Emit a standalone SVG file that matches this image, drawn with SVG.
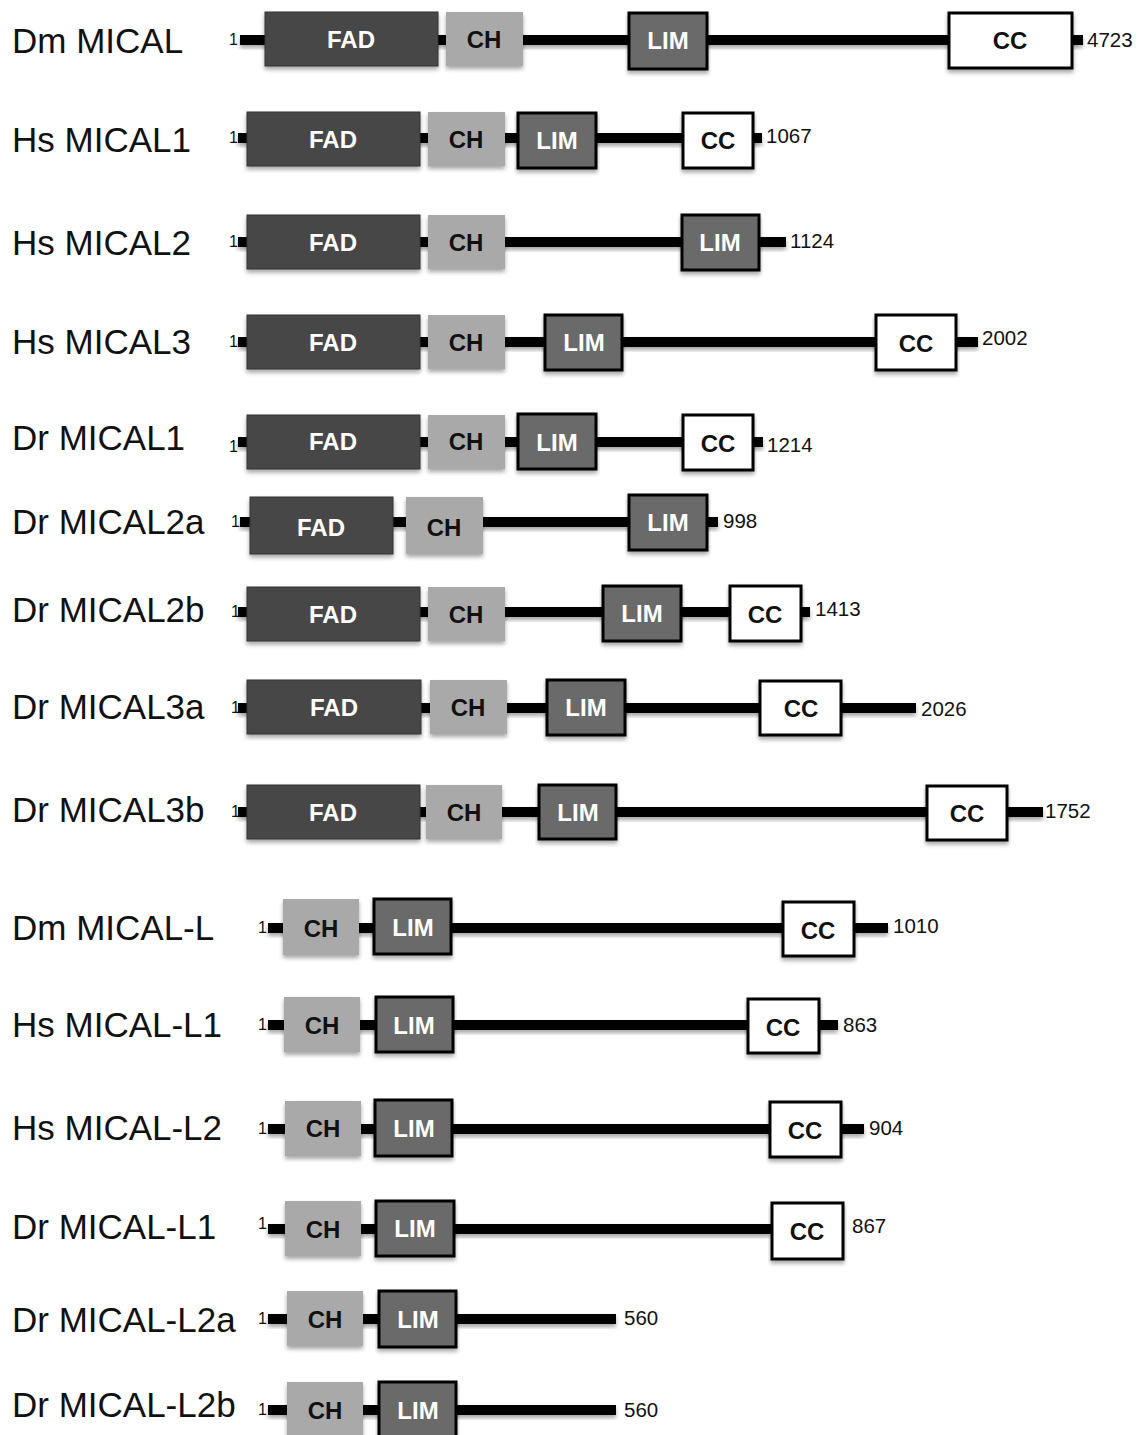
<svg xmlns="http://www.w3.org/2000/svg" width="1140" height="1435" viewBox="0 0 1140 1435">
<defs>
<filter id="sh" x="-5%" y="-30%" width="110%" height="180%">
<feDropShadow dx="0" dy="3" stdDeviation="2" flood-color="#000" flood-opacity="0.35"/>
</filter>
<style>
.lbl{font-family:"Liberation Sans",Arial,sans-serif;font-size:35px;fill:#111}
.one{font-family:"Liberation Sans",Arial,sans-serif;font-size:16px;fill:#111}
.num{font-family:"Liberation Sans",Arial,sans-serif;font-size:20.5px;fill:#111}
.bb{fill:#000;filter:url(#sh)}
.fad{fill:#464646;stroke:#333;stroke-width:1;filter:url(#sh)}
.ch{fill:#a9a9a9;filter:url(#sh)}
.lim{fill:#6a6a6a;stroke:#000;stroke-width:3;filter:url(#sh)}
.cc{fill:#fff;stroke:#000;stroke-width:3;filter:url(#sh)}
.dw{font-family:"Liberation Sans",Arial,sans-serif;font-weight:bold;font-size:24px;fill:#fff;text-anchor:middle}
.dk{font-family:"Liberation Sans",Arial,sans-serif;font-weight:bold;font-size:24px;fill:#111;text-anchor:middle}
</style>
</defs>
<rect width="1140" height="1435" fill="#fff"/>

<g id="connectors">
<rect class="bb" x="240" y="35" width="843" height="10"/>
<rect class="bb" x="238" y="133" width="524" height="10"/>
<rect class="bb" x="238" y="237" width="548" height="10"/>
<rect class="bb" x="238" y="337" width="740" height="10"/>
<rect class="bb" x="238" y="437" width="525" height="10"/>
<rect class="bb" x="240" y="517" width="478" height="10"/>
<rect class="bb" x="238" y="607" width="572" height="10"/>
<rect class="bb" x="238" y="703" width="678" height="10"/>
<rect class="bb" x="238" y="807" width="805" height="10"/>
<rect class="bb" x="268" y="923" width="620" height="10"/>
<rect class="bb" x="268" y="1020" width="570" height="10"/>
<rect class="bb" x="268" y="1124" width="596" height="10"/>
<rect class="bb" x="268" y="1224" width="503" height="10"/>
<rect class="bb" x="268" y="1314" width="348" height="10"/>
<rect class="bb" x="268" y="1405" width="348" height="10"/>
</g>

<g id="dm-mical">
<text class="lbl" x="12" y="53">Dm MICAL</text>
<text class="one" x="229" y="45">1</text>
<rect class="fad" x="265" y="12" width="173" height="54"/><text class="dw" x="351" y="48">FAD</text>
<rect class="ch" x="446" y="12" width="77" height="54"/><text class="dk" x="484" y="48">CH</text>
<rect class="lim" x="629" y="13" width="78" height="56"/><text class="dw" x="668" y="49">LIM</text>
<rect class="cc" x="949" y="13" width="123" height="55"/><text class="dk" x="1010" y="49">CC</text>
<text class="num" x="1087" y="47">4723</text>
</g>

<g id="hs-mical1">
<text class="lbl" x="12" y="152">Hs MICAL1</text>
<text class="one" x="229" y="143">1</text>
<rect class="fad" x="247" y="112" width="173" height="54"/><text class="dw" x="333" y="148">FAD</text>
<rect class="ch" x="428" y="112" width="77" height="54"/><text class="dk" x="466" y="148">CH</text>
<rect class="lim" x="518" y="113" width="78" height="55"/><text class="dw" x="557" y="149">LIM</text>
<rect class="cc" x="683" y="113" width="70" height="55"/><text class="dk" x="718" y="149">CC</text>
<text class="num" x="766" y="143">1067</text>
</g>

<g id="hs-mical2">
<text class="lbl" x="12" y="255">Hs MICAL2</text>
<text class="one" x="229" y="247">1</text>
<rect class="fad" x="247" y="215" width="173" height="54"/><text class="dw" x="333" y="251">FAD</text>
<rect class="ch" x="428" y="215" width="77" height="54"/><text class="dk" x="466" y="251">CH</text>
<rect class="lim" x="682" y="215" width="77" height="55"/><text class="dw" x="720" y="251">LIM</text>
<text class="num" x="790" y="248">1124</text>
</g>

<g id="hs-mical3">
<text class="lbl" x="12" y="354">Hs MICAL3</text>
<text class="one" x="229" y="347">1</text>
<rect class="fad" x="247" y="315" width="173" height="54"/><text class="dw" x="333" y="351">FAD</text>
<rect class="ch" x="428" y="315" width="77" height="54"/><text class="dk" x="466" y="351">CH</text>
<rect class="lim" x="545" y="315" width="77" height="55"/><text class="dw" x="584" y="351">LIM</text>
<rect class="cc" x="876" y="315" width="80" height="55"/><text class="dk" x="916" y="352">CC</text>
<text class="num" x="982" y="345">2002</text>
</g>

<g id="dr-mical1">
<text class="lbl" x="12" y="450">Dr MICAL1</text>
<text class="one" x="229" y="452">1</text>
<rect class="fad" x="247" y="415" width="173" height="54"/><text class="dw" x="333" y="450">FAD</text>
<rect class="ch" x="428" y="415" width="77" height="54"/><text class="dk" x="466" y="450">CH</text>
<rect class="lim" x="518" y="414" width="78" height="55"/><text class="dw" x="557" y="451">LIM</text>
<rect class="cc" x="683" y="415" width="70" height="55"/><text class="dk" x="718" y="452">CC</text>
<text class="num" x="767" y="452">1214</text>
</g>

<g id="dr-mical2a">
<text class="lbl" x="12" y="534">Dr MICAL2a</text>
<text class="one" x="231" y="527">1</text>
<rect class="fad" x="250" y="497" width="143" height="57"/><text class="dw" x="321" y="536">FAD</text>
<rect class="ch" x="406" y="497" width="77" height="57"/><text class="dk" x="444" y="536">CH</text>
<rect class="lim" x="629" y="495" width="78" height="55"/><text class="dw" x="668" y="531">LIM</text>
<text class="num" x="723" y="528">998</text>
</g>

<g id="dr-mical2b">
<text class="lbl" x="12" y="622">Dr MICAL2b</text>
<text class="one" x="231" y="617">1</text>
<rect class="fad" x="247" y="587" width="173" height="54"/><text class="dw" x="333" y="623">FAD</text>
<rect class="ch" x="428" y="587" width="77" height="54"/><text class="dk" x="466" y="623">CH</text>
<rect class="lim" x="603" y="586" width="78" height="55"/><text class="dw" x="642" y="622">LIM</text>
<rect class="cc" x="730" y="586" width="71" height="55"/><text class="dk" x="765" y="623">CC</text>
<text class="num" x="815" y="616">1413</text>
</g>

<g id="dr-mical3a">
<text class="lbl" x="12" y="719">Dr MICAL3a</text>
<text class="one" x="231" y="713">1</text>
<rect class="fad" x="247" y="680" width="174" height="54"/><text class="dw" x="334" y="716">FAD</text>
<rect class="ch" x="430" y="680" width="77" height="54"/><text class="dk" x="468" y="716">CH</text>
<rect class="lim" x="547" y="680" width="78" height="55"/><text class="dw" x="586" y="716">LIM</text>
<rect class="cc" x="760" y="681" width="81" height="54"/><text class="dk" x="801" y="717">CC</text>
<text class="num" x="921" y="716">2026</text>
</g>

<g id="dr-mical3b">
<text class="lbl" x="12" y="822">Dr MICAL3b</text>
<text class="one" x="231" y="817">1</text>
<rect class="fad" x="247" y="785" width="173" height="54"/><text class="dw" x="333" y="821">FAD</text>
<rect class="ch" x="426" y="785" width="76" height="54"/><text class="dk" x="464" y="821">CH</text>
<rect class="lim" x="539" y="785" width="77" height="54"/><text class="dw" x="578" y="821">LIM</text>
<rect class="cc" x="927" y="786" width="80" height="54"/><text class="dk" x="967" y="822">CC</text>
<text class="num" x="1045" y="818">1752</text>
</g>

<g id="dm-mical-l">
<text class="lbl" x="12" y="940">Dm MICAL-L</text>
<text class="one" x="258" y="933">1</text>
<rect class="ch" x="283" y="899" width="76" height="56"/><text class="dk" x="321" y="937">CH</text>
<rect class="lim" x="374" y="899" width="77" height="55"/><text class="dw" x="413" y="936">LIM</text>
<rect class="cc" x="783" y="902" width="71" height="54"/><text class="dk" x="818" y="939">CC</text>
<text class="num" x="893" y="933">1010</text>
</g>

<g id="hs-mical-l1">
<text class="lbl" x="12" y="1037">Hs MICAL-L1</text>
<text class="one" x="258" y="1030">1</text>
<rect class="ch" x="284" y="997" width="76" height="55"/><text class="dk" x="322" y="1034">CH</text>
<rect class="lim" x="376" y="997" width="77" height="55"/><text class="dw" x="414" y="1034">LIM</text>
<rect class="cc" x="748" y="999" width="71" height="54"/><text class="dk" x="783" y="1036">CC</text>
<text class="num" x="843" y="1032">863</text>
</g>

<g id="hs-mical-l2">
<text class="lbl" x="12" y="1140">Hs MICAL-L2</text>
<text class="one" x="258" y="1134">1</text>
<rect class="ch" x="285" y="1101" width="76" height="55"/><text class="dk" x="323" y="1137">CH</text>
<rect class="lim" x="375" y="1100" width="77" height="56"/><text class="dw" x="414" y="1137">LIM</text>
<rect class="cc" x="770" y="1102" width="71" height="55"/><text class="dk" x="805" y="1139">CC</text>
<text class="num" x="869" y="1135">904</text>
</g>

<g id="dr-mical-l1">
<text class="lbl" x="12" y="1239">Dr MICAL-L1</text>
<text class="one" x="258" y="1229">1</text>
<rect class="ch" x="285" y="1201" width="76" height="55"/><text class="dk" x="323" y="1238">CH</text>
<rect class="lim" x="376" y="1201" width="78" height="55"/><text class="dw" x="415" y="1237">LIM</text>
<rect class="cc" x="772" y="1203" width="71" height="56"/><text class="dk" x="807" y="1240">CC</text>
<text class="num" x="852" y="1233">867</text>
</g>

<g id="dr-mical-l2a">
<text class="lbl" x="12" y="1332">Dr MICAL-L2a</text>
<text class="one" x="258" y="1324">1</text>
<rect class="ch" x="287" y="1291" width="76" height="55"/><text class="dk" x="325" y="1328">CH</text>
<rect class="lim" x="379" y="1291" width="77" height="56"/><text class="dw" x="418" y="1328">LIM</text>
<text class="num" x="624" y="1325">560</text>
</g>

<g id="dr-mical-l2b">
<text class="lbl" x="12" y="1417">Dr MICAL-L2b</text>
<text class="one" x="258" y="1415">1</text>
<rect class="ch" x="287" y="1382" width="76" height="56"/><text class="dk" x="325" y="1419">CH</text>
<rect class="lim" x="379" y="1382" width="77" height="57"/><text class="dw" x="418" y="1419">LIM</text>
<text class="num" x="624" y="1417">560</text>
</g>
</svg>
